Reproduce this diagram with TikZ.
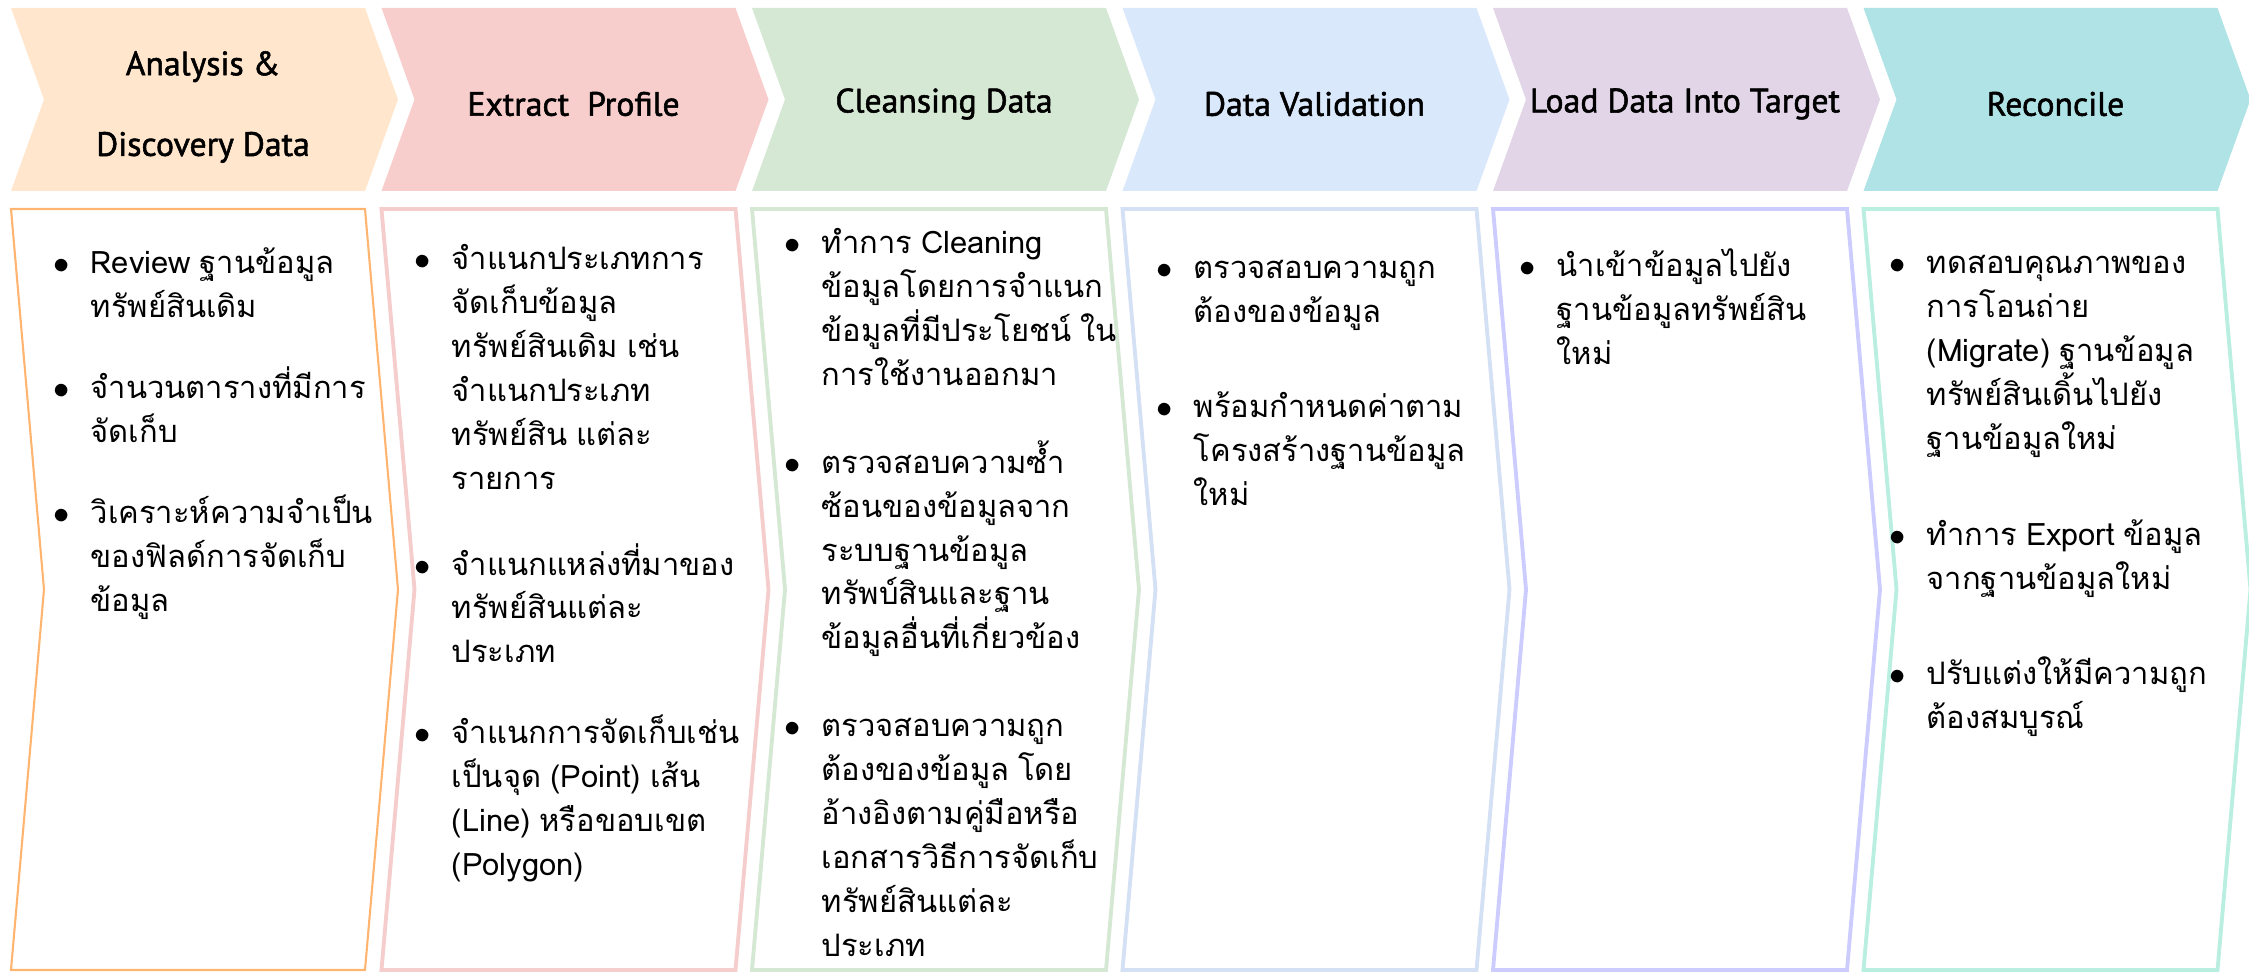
\documentclass[tikz,border=0pt]{standalone}
\usepackage{fontspec}
\newfontfamily\thaifont[Script=Thai,WordSpace=0.85]{Loma}
\newfontfamily\headfont[FakeBold=1.6]{PT Sans}
\definecolor{peach}{HTML}{FFE6CC}
\definecolor{rose}{HTML}{F8CECC}
\definecolor{mint}{HTML}{D5E8D4}
\definecolor{sky}{HTML}{DAE8FC}
\definecolor{lilac}{HTML}{E1D5E7}
\definecolor{teal}{HTML}{B0E3E6}
\definecolor{peachline}{HTML}{FFB570}
\definecolor{roseline}{HTML}{F6CDCD}
\definecolor{mintline}{HTML}{D5E8D4}
\definecolor{skyline}{HTML}{D4E1F5}
\definecolor{lilacline}{HTML}{CCCCFF}
\definecolor{tealline}{HTML}{B9EEE0}
\tikzset{
  head/.style={font=\headfont\fontsize{9.6pt}{11pt}\selectfont, align=center, inner sep=0pt},
  body/.style={font=\thaifont\fontsize{8.8pt}{12.5pt}\selectfont, align=left, inner sep=0pt, anchor=north west},
}
\newcommand{\itm}{\strut\llap{$\bullet$\hspace{2.1mm}}}

\begin{document}
\begin{tikzpicture}[x=0.1mm,y=-0.1mm]
	\useasboundingbox (0,0) rectangle (2249,973);
	% arrows on top, frames below
	\foreach \i/\fc/\lc/\lw in {0/peach/peachline/0.6pt, 1/rose/roseline/1.1pt, 2/mint/mintline/1.1pt,
			3/sky/skyline/1.1pt, 4/lilac/lilacline/1.1pt, 5/teal/tealline/1.1pt}{
		\pgfmathsetmacro\xo{11+370.5*\i}
		\fill[\fc] (\xo,8) -- ++(354,0) -- ++(33,91.5) -- ++(-33,91.5) -- ++(-354,0) -- ++(33,-91.5) -- cycle;
		\draw[\lc, line width=\lw] (\xo,209) -- ++(354,0) -- ++(33,380.5) -- ++(-33,380.5) -- ++(-354,0) -- ++(33,-380.5) -- cycle;
	}
	\node[head] (analysis) at (203,107) {Analysis \&\\[4.2mm]Discovery Data};
	\node[head] (extract) at (573.5,104) {Extract\ \ Profile};
	\node[head] (cleansing) at (944,104) {Cleansing Data};
	\node[head] (validation) at (1314.5,104) {Data Validation};
	\node[head] (load) at (1685,104) {Load Data Into Target};
	\node[head] (reconcile) at (2055.5,104) {Reconcile};

	\node[body] (analysisText) at (90,242) {\itm Review ฐานข้อมูล\\ทรัพย์สินเดิม\\[3.7mm]
		\itm จำนวนตารางที่มีการ\\จัดเก็บ\\[3.7mm]
		\itm วิเคราะห์ความจำเป็น\\ของฟิลด์การจัดเก็บ\\ข้อมูล};
	\node[body] (extractText) at (451,238) {\itm จำแนกประเภทการ\\จัดเก็บข้อมูล\\ทรัพย์สินเดิม เช่น\\จำแนกประเภท\\ทรัพย์สิน แต่ละ\\รายการ\\[4.2mm]
		\itm จำแนกแหล่งที่มาของ\\ทรัพย์สินแต่ละ\\ประเภท\\[3.7mm]
		\itm จำแนกการจัดเก็บเช่น\\เป็นจุด (Point) เส้น\\(Line) หรือขอบเขต\\(Polygon)};
	\node[body] (cleansingText) at (821,222) {\itm ทำการ Cleaning\\ข้อมูลโดยการจำแนก\\ข้อมูลที่มีประโยชน์ ใน\\การใช้งานออกมา\\[4.4mm]
		\itm ตรวจสอบความซ้ำ\\ซ้อนของข้อมูลจาก\\ระบบฐานข้อมูล\\ทรัพบ์สินและฐาน\\ข้อมูลอื่นที่เกี่ยวข้อง\\[4.4mm]
		\itm ตรวจสอบความถูก\\ต้องของข้อมูล โดย\\อ้างอิงตามคู่มือหรือ\\เอกสารวิธีการจัดเก็บ\\ทรัพย์สินแต่ละ\\ประเภท};
	\node[body] (validationText) at (1193,247) {\itm ตรวจสอบความถูก\\ต้องของข้อมูล\\[5.1mm]
		\itm พร้อมกำหนดค่าตาม\\โครงสร้างฐานข้อมูล\\ใหม่};
	\node[body] (loadText) at (1556,245) {\itm นำเข้าข้อมูลไปยัง\\ฐานข้อมูลทรัพย์สิน\\ใหม่};
	\node[body] (reconcileText) at (1926,242) {\itm ทดสอบคุณภาพของ\\การโอนถ่าย\\(Migrate) ฐานข้อมูล\\ทรัพย์สินเดิ้นไปยัง\\ฐานข้อมูลใหม่\\[5.2mm]
		\itm ทำการ Export ข้อมูล\\จากฐานข้อมูลใหม่\\[5.2mm]
		\itm ปรับแต่งให้มีความถูก\\ต้องสมบูรณ์};
\end{tikzpicture}
\end{document}
